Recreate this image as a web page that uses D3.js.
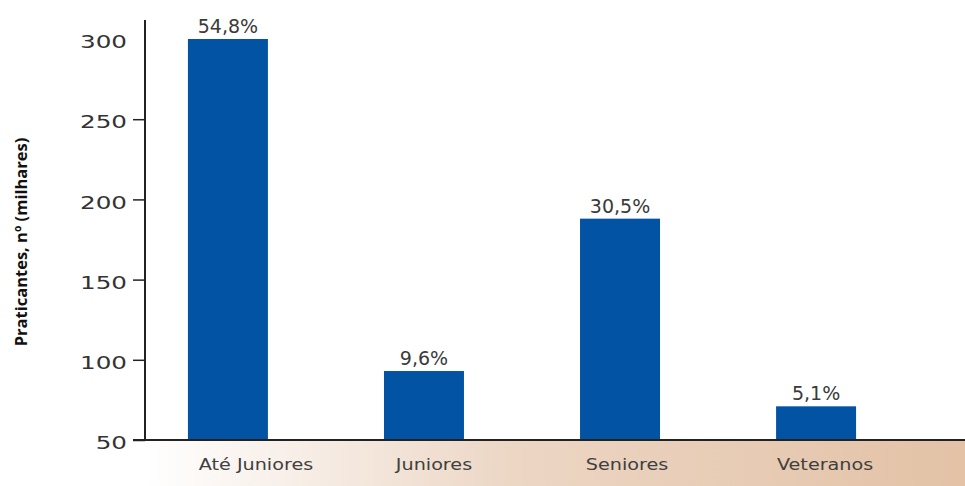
<!DOCTYPE html>
<html>
<head>
<meta charset="utf-8">
<script src="https://cdn.jsdelivr.net/npm/d3@7"></script>
<style>
  html, body { margin: 0; padding: 0; background: #fff; }
  svg { display: block; }
</style>
</head>
<body>
<svg id="chart" width="965" height="486"></svg>
<script>
// Praticantes por escalão (milhares) e respetiva quota
const categories = ["Até Juniores", "Juniores", "Seniores", "Veteranos"];
const values = [300, 93, 188, 71];
const shares = ["54,8%", "9,6%", "30,5%", "5,1%"];
const yTicks = [50, 100, 150, 200, 250, 300];
const yTitle = "Praticantes, nº (milhares)";

const svg = d3.select("#chart");
const W = 965, H = 486;
const axisX = 145, baseY = 440;
const FONT = "'DejaVu Sans', Verdana, sans-serif";

const x = d3.scaleBand()
  .domain(categories)
  .range([axisX, 899])
  .paddingInner(0.592)
  .paddingOuter(0.219);

const y = d3.scaleLinear()
  .domain([50, 300])
  .range([baseY, 39]);

// Warm band under the category axis
const defs = svg.append("defs");
const grad = defs.append("linearGradient")
  .attr("id", "band")
  .attr("x1", "0%").attr("x2", "100%").attr("y1", "0%").attr("y2", "0%");
grad.append("stop").attr("offset", "0%").attr("stop-color", "#ffffff");
grad.append("stop").attr("offset", "45%").attr("stop-color", "#ecd6c4");
grad.append("stop").attr("offset", "100%").attr("stop-color", "#e3c2a6");

svg.append("rect")
  .attr("x", axisX).attr("y", baseY)
  .attr("width", W - axisX).attr("height", H - baseY)
  .attr("fill", "url(#band)");

// Bars
svg.append("g").selectAll("rect")
  .data(categories)
  .join("rect")
  .attr("x", d => x(d))
  .attr("width", x.bandwidth())
  .attr("y", (d, i) => y(values[i]))
  .attr("height", (d, i) => y(50) - y(values[i]))
  .attr("fill", "#0253a3");

// Share labels above bars
svg.append("g").selectAll("text")
  .data(categories)
  .join("text")
  .attr("x", d => x(d) + x.bandwidth() / 2)
  .attr("y", (d, i) => y(values[i]) - 6)
  .attr("text-anchor", "middle")
  .attr("font-family", FONT)
  .attr("font-size", 19)
  .attr("fill", "#3a3a3a")
  .text((d, i) => shares[i]);

// Y axis: ticks, then wide-set numeric labels
const yAxis = svg.append("g")
  .attr("transform", `translate(${axisX},0)`)
  .call(d3.axisLeft(y).tickValues(yTicks.filter(v => v !== 300)).tickSize(12).tickFormat(""));
yAxis.select(".domain").remove();
yAxis.selectAll(".tick line").attr("stroke", "#222").attr("stroke-width", 1.5);

svg.append("g").selectAll("g")
  .data(yTicks)
  .join("g")
  .attr("transform", d => `translate(127,${y(d) + 3})`)
  .append("text")
  .attr("transform", "scale(1.45,1)")
  .attr("text-anchor", "end")
  .attr("dy", "0.36em")
  .attr("font-family", FONT)
  .attr("font-size", 17)
  .attr("fill", "#333")
  .text(d => d);

svg.append("line")
  .attr("x1", axisX).attr("x2", axisX)
  .attr("y1", 20).attr("y2", baseY)
  .attr("stroke", "#222").attr("stroke-width", 2);

// Category labels in the band
const labelNudge = [28, 10, 7, 9];
svg.append("g").selectAll("g")
  .data(categories)
  .join("g")
  .attr("transform", (d, i) => `translate(${x(d) + x.bandwidth() / 2 + labelNudge[i]},470)`)
  .append("text")
  .attr("transform", "scale(1.2,1)")
  .attr("text-anchor", "middle")
  .attr("font-family", FONT)
  .attr("font-size", 16)
  .attr("fill", "#404040")
  .text(d => d);

svg.append("line")
  .attr("x1", axisX - 12).attr("x2", W)
  .attr("y1", baseY).attr("y2", baseY)
  .attr("stroke", "#222").attr("stroke-width", 2);

// Y title
svg.append("text")
  .attr("transform", `translate(27,${(137 + 347) / 2}) rotate(-90)`)
  .attr("text-anchor", "middle")
  .attr("font-family", "'Open Sans', sans-serif")
  .attr("font-weight", "bold")
  .attr("font-size", 16.5)
  .attr("fill", "#111")
  .text(yTitle);
</script>
</body>
</html>
